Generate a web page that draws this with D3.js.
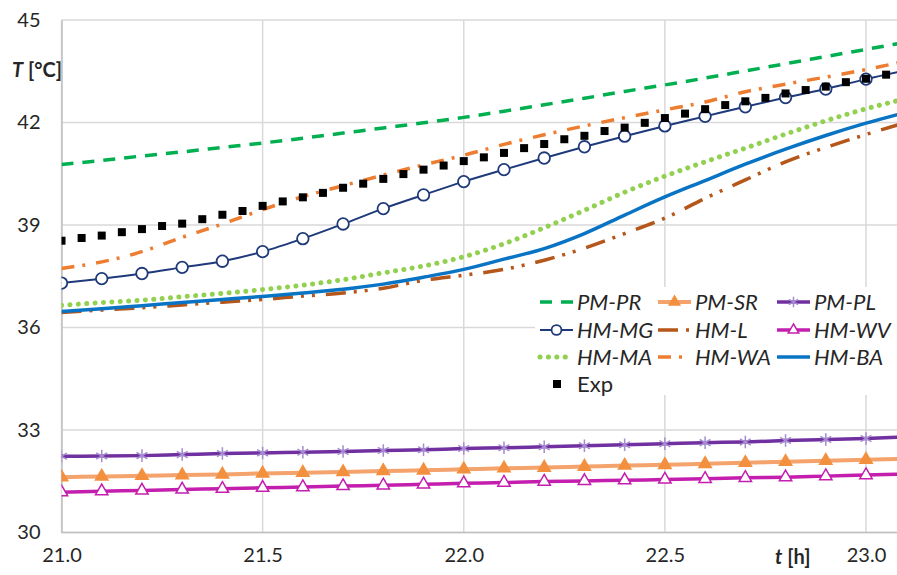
<!DOCTYPE html>
<html>
<head>
<meta charset="utf-8">
<script src="https://cdn.jsdelivr.net/npm/d3@7"></script>
<style>
  body { margin: 0; background: #fff; }
  text { font-family: Lato, "Open Sans", sans-serif; fill: #262626; }
</style>
</head>
<body>
<div id="chart"></div>
<script>
// time axis for model series (h)
const tModel = [21.0, 21.1, 21.2, 21.3, 21.4, 21.5, 21.6, 21.7, 21.8, 21.9, 22.0,
  22.1, 22.2, 22.3, 22.4, 22.5, 22.6, 22.7, 22.8, 22.9, 23.0, 23.1];

// model series, temperature in °C
const pmPR = [40.77, 40.89, 41.02, 41.14, 41.27, 41.40, 41.54, 41.69, 41.84, 41.99, 42.15,
  42.33, 42.52, 42.71, 42.91, 43.10, 43.30, 43.51, 43.72, 43.93, 44.14, 44.35];
const pmSR = [31.62, 31.64, 31.66, 31.68, 31.70, 31.73, 31.75, 31.77, 31.80, 31.82, 31.85,
  31.88, 31.90, 31.93, 31.96, 31.98, 32.01, 32.04, 32.07, 32.10, 32.13, 32.16];
const pmPL = [32.23, 32.24, 32.25, 32.28, 32.31, 32.33, 32.35, 32.37, 32.40, 32.42, 32.46,
  32.48, 32.51, 32.54, 32.57, 32.60, 32.63, 32.65, 32.69, 32.72, 32.75, 32.80];
const hmMG = [37.30, 37.43, 37.58, 37.76, 37.94, 38.22, 38.60, 39.03, 39.48, 39.88, 40.27,
  40.62, 40.96, 41.29, 41.60, 41.90, 42.18, 42.46, 42.73, 42.98, 43.27, 43.53];
const hmL = [36.44, 36.51, 36.58, 36.66, 36.74, 36.82, 36.92, 37.01, 37.15, 37.38, 37.53,
  37.70, 37.97, 38.32, 38.75, 39.20, 39.78, 40.32, 40.85, 41.27, 41.65, 42.00];
const hmWV = [31.18, 31.21, 31.23, 31.26, 31.28, 31.31, 31.33, 31.36, 31.38, 31.41, 31.44,
  31.46, 31.49, 31.51, 31.53, 31.55, 31.57, 31.60, 31.62, 31.65, 31.68, 31.71];
const hmMA = [36.65, 36.73, 36.80, 36.90, 37.00, 37.11, 37.24, 37.40, 37.60, 37.80, 38.07,
  38.45, 38.92, 39.43, 39.96, 40.43, 40.85, 41.25, 41.66, 42.05, 42.40, 42.70];
const hmWA = [37.73, 37.92, 38.22, 38.64, 39.03, 39.45, 39.83, 40.15, 40.46, 40.76, 41.04,
  41.36, 41.64, 41.90, 42.14, 42.37, 42.60, 42.90, 43.12, 43.33, 43.55, 43.80];
const hmBA = [36.47, 36.55, 36.64, 36.73, 36.82, 36.91, 37.01, 37.12, 37.27, 37.47, 37.70,
  38.00, 38.31, 38.75, 39.29, 39.82, 40.30, 40.78, 41.22, 41.62, 41.98, 42.30];

// measured data
const tExp = [21.00, 21.05, 21.10, 21.15, 21.20, 21.25, 21.30, 21.35, 21.40, 21.45, 21.50,
  21.55, 21.60, 21.65, 21.70, 21.75, 21.80, 21.85, 21.90, 21.95, 22.00,
  22.05, 22.10, 22.15, 22.20, 22.25, 22.30, 22.35, 22.40, 22.45, 22.50,
  22.55, 22.60, 22.65, 22.70, 22.75, 22.80, 22.85, 22.90, 22.95, 23.00, 23.05];
const exp = [38.54, 38.62, 38.69, 38.79, 38.88, 38.97, 39.04, 39.17, 39.30, 39.41, 39.56,
  39.69, 39.81, 39.94, 40.09, 40.21, 40.35, 40.49, 40.62, 40.74, 40.87,
  40.98, 41.11, 41.25, 41.37, 41.51, 41.61, 41.75, 41.85, 41.99, 42.13,
  42.26, 42.39, 42.51, 42.62, 42.72, 42.85, 42.95, 43.05, 43.18, 43.28, 43.40];

// tick labels
const xTicks = [21.0, 21.5, 22.0, 22.5, 23.0];
const yTicks = [30, 33, 36, 39, 42, 45];

// series styles (legend order, row by row)
const series = [
  {name: "PM-PR", vals: pmPR, color: "#00B050", width: 3.5, dash: "12,9"},
  {name: "PM-SR", vals: pmSR, color: "#F4A36C", width: 4, marker: "triUp", mfill: "#F3903F", mstroke: "#F3903F"},
  {name: "PM-PL", vals: pmPL, color: "#7030A0", width: 3.5, marker: "ast", mstroke: "#A58BD0"},
  {name: "HM-MG", vals: hmMG, color: "#1F3A7A", width: 2, marker: "circle", mfill: "#fff", mstroke: "#1F3A7A"},
  {name: "HM-L", vals: hmL, color: "#B5561A", width: 3.5, dash: "20,8,3,8,3,11"},
  {name: "HM-WV", vals: hmWV, color: "#C41EAE", width: 3.5, marker: "triOpen", mfill: "#fff", mstroke: "#C41EAE"},
  {name: "HM-MA", vals: hmMA, color: "#92D050", width: 5, dash: "0.1,8.3", cap: "round"},
  {name: "HM-WA", vals: hmWA, color: "#ED7D31", width: 3.5, dash: "13,8,3,11"},
  {name: "HM-BA", vals: hmBA, color: "#0A74C4", width: 3.5}
];

const W = 897, H = 575;
const margin = {top: 20, right: 0, bottom: 42.5, left: 61.5};

const svg = d3.select("#chart").append("svg")
  .attr("width", W).attr("height", H);

const x = d3.scaleLinear().domain([21, 23]).range([margin.left, 866]);
const y = d3.scaleLinear().domain([30, 45]).range([H - margin.bottom, margin.top]);

svg.append("defs").append("clipPath").attr("id", "plot")
  .append("rect")
  .attr("x", margin.left).attr("y", margin.top - 10)
  .attr("width", W - margin.left).attr("height", y(30) - margin.top + 10);

// gridlines
const grid = svg.append("g");
grid.selectAll(".gy").data(yTicks).join("line")
  .attr("x1", margin.left).attr("x2", W)
  .attr("y1", d => y(d)).attr("y2", d => y(d))
  .attr("stroke", "#d9d9d9").attr("stroke-width", 1.5);
grid.selectAll(".gx").data(xTicks).join("line")
  .attr("x1", d => x(d)).attr("x2", d => x(d))
  .attr("y1", y(45)).attr("y2", y(30))
  .attr("stroke", "#d9d9d9").attr("stroke-width", 1.5);

// axes (labels only, Excel style)
const xAxis = svg.append("g")
  .attr("transform", "translate(0," + y(30) + ")")
  .call(d3.axisBottom(x).tickValues(xTicks).tickFormat(d3.format(".1f")).tickSize(0).tickPadding(15));
xAxis.select(".domain").attr("stroke", "#bfbfbf").attr("stroke-width", 1.5).attr("d", "M" + margin.left + ",0H" + W);
xAxis.selectAll("text").style("font-size", "20px").attr("fill", "#262626");

const yAxis = svg.append("g")
  .attr("transform", "translate(" + margin.left + ",0)")
  .call(d3.axisLeft(y).tickValues(yTicks).tickSize(0).tickPadding(21));
yAxis.select(".domain").attr("stroke", "#bfbfbf").attr("stroke-width", 1.5);
yAxis.selectAll("text").style("font-size", "20px").attr("fill", "#262626");

// axis titles
const yt = svg.append("text").attr("x", 12).attr("y", 77)
  .style("font-size", "20px").style("font-weight", "bold");
yt.append("tspan").style("font-style", "italic").text("T");
yt.append("tspan").text(" [°C]");

const xt = svg.append("text").attr("x", 775).attr("y", y(30) + 31)
  .style("font-size", "20px").style("font-weight", "bold");
xt.append("tspan").style("font-style", "italic").text("t");
xt.append("tspan").text(" [h]");

// series
const plot = svg.append("g").attr("clip-path", "url(#plot)");
const line = d3.line()
  .x((d, i) => x(tModel[i]))
  .y(d => y(d))
  .curve(d3.curveMonotoneX);

function drawMarker(sel, s, size) {
  if (s.marker === "circle") {
    sel.append("circle").attr("r", size * 0.55)
      .attr("fill", s.mfill).attr("stroke", s.mstroke).attr("stroke-width", 1.8);
  } else if (s.marker === "triUp" || s.marker === "triOpen") {
    sel.append("path").attr("d", d3.symbol(d3.symbolTriangle, size * size * 0.6)())
      .attr("fill", s.mfill).attr("stroke", s.mstroke).attr("stroke-width", 1.5);
  } else if (s.marker === "ast") {
    sel.append("path").attr("d", d3.symbol(d3.symbolAsterisk, size * size * 1.0)())
      .attr("fill", "none").attr("stroke", s.mstroke).attr("stroke-width", 1.5);
  }
}

series.forEach(s => {
  plot.append("path")
    .attr("d", line(s.vals))
    .attr("fill", "none")
    .attr("stroke", s.color)
    .attr("stroke-width", s.width)
    .attr("stroke-dasharray", s.dash || null)
    .attr("stroke-linecap", s.cap || "butt");
  if (s.marker) {
    const pts = s.vals.map((v, i) => [tModel[i], v]).filter(p => p[0] <= 23.0001);
    pts.forEach(p => {
      const m = plot.append("g").attr("transform", "translate(" + x(p[0]) + "," + y(p[1]) + ")");
      drawMarker(m, s, 10.5);
    });
  }
});

// experimental points
plot.selectAll(".exp").data(exp).join("rect")
  .attr("x", (d, i) => x(tExp[i]) - 4)
  .attr("y", d => y(d) - 4)
  .attr("width", 8).attr("height", 8)
  .attr("fill", "#000");

// legend
const legend = svg.append("g").attr("transform", "translate(535,287)");
legend.append("rect").attr("width", W - 535).attr("height", 108).attr("fill", "#fff");
const colX = [5, 123, 242];
const rowY = [15, 43, 70, 97];
series.forEach((s, i) => {
  const gx = colX[i % 3], gy = rowY[Math.floor(i / 3)];
  const item = legend.append("g").attr("transform", "translate(" + gx + "," + gy + ")");
  item.append("line")
    .attr("x1", 0).attr("x2", 33).attr("y1", 0).attr("y2", 0)
    .attr("stroke", s.color).attr("stroke-width", s.width)
    .attr("stroke-dasharray", s.dash || null)
    .attr("stroke-linecap", s.cap || "butt");
  if (s.marker) {
    const m = item.append("g").attr("transform", "translate(16.5,0)");
    drawMarker(m, s, 9);
  }
  item.append("text").attr("x", 37).attr("y", 8)
    .style("font-size", "22px").style("font-style", "italic")
    .text(s.name);
});
const expItem = legend.append("g").attr("transform", "translate(" + colX[0] + "," + rowY[3] + ")");
expItem.append("rect").attr("x", 13).attr("y", -4).attr("width", 8).attr("height", 8).attr("fill", "#000");
expItem.append("text").attr("x", 37).attr("y", 8).style("font-size", "22px").text("Exp");
</script>
</body>
</html>
